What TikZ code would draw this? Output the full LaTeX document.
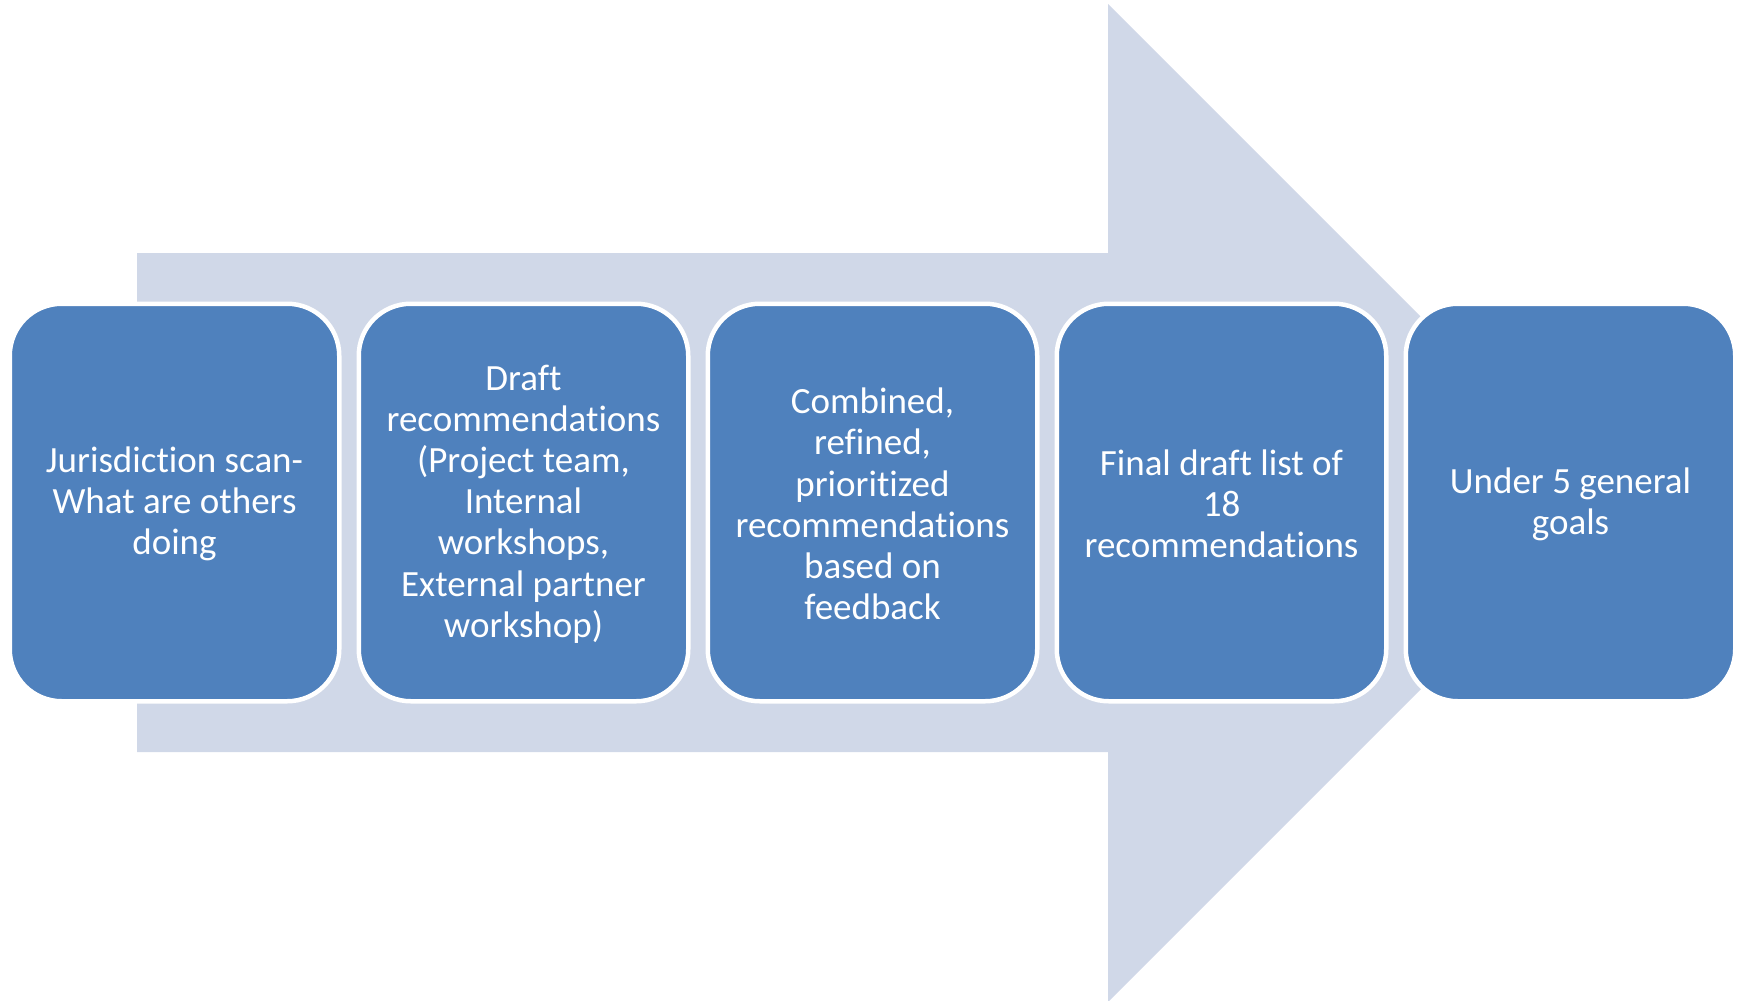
\documentclass[tikz,border=0pt]{standalone}
\usepackage{fontspec}
\setmainfont{Carlito}[Ligatures=NoCommon]
\definecolor{boxblue}{RGB}{79,129,189}
\definecolor{arrowgray}{RGB}{208,216,232}
\begin{document}
\begin{tikzpicture}[x=1pt,y=-1pt,
  stagebox/.style={draw=white, line width=4.5pt, fill=boxblue, rounded corners=52pt,
    minimum width=329.5pt, minimum height=397.5pt, inner sep=0pt},
  stagetext/.style={text=white, align=center, inner sep=0pt, yshift=-1.5pt,
    font=\fontsize{37}{41.2}\selectfont}]
\useasboundingbox (0,0) rectangle (1741,1001);
\fill[arrowgray] (137,253) -- (1108,253) -- (1108,4) -- (1607,503) -- (1108,1002) -- (1108,752) -- (137,752) -- cycle;
\node[stagebox] (s1) at (174.5,502.5) {};
\node[stagebox] (s2) at (523.5,502.5) {};
\node[stagebox] (s3) at (872.5,502.5) {};
\node[stagebox] (s4) at (1221.5,502.5) {};
\node[stagebox] (s5) at (1570.5,502.5) {};
\node[stagetext] (t1) at (s1.center) {Jurisdiction scan-\\What are others\\doing};
\node[stagetext] (t2) at (s2.center) {Draft\\recommendations\\(Project team,\\Internal\\workshops,\\External partner\\workshop)};
\node[stagetext] (t3) at (s3.center) {Combined,\\refined,\\prioritized\\recommendations\\based on\\feedback};
\node[stagetext] (t4) at (s4.center) {Final draft list of\\18\\recommendations};
\node[stagetext] (t5) at (s5.center) {Under 5 general\\goals};
\end{tikzpicture}
\end{document}
